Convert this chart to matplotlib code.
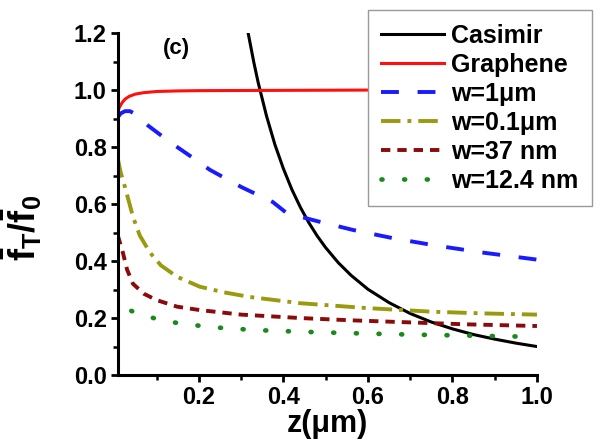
import matplotlib
matplotlib.use("Agg")
import matplotlib.pyplot as plt
from matplotlib.ticker import MultipleLocator, FixedLocator

plt.rcParams['font.family'] = ['Liberation Sans', 'DejaVu Sans']
plt.rcParams['font.weight'] = 'bold'
plt.rcParams['mathtext.fontset'] = 'custom'
plt.rcParams['mathtext.rm'] = 'Liberation Sans:bold'
plt.rcParams['mathtext.bf'] = 'Liberation Sans:bold'
plt.rcParams['mathtext.it'] = 'Liberation Sans:bold'

# ---- data ----
casimir_z = [0.316, 0.33, 0.34, 0.36, 0.38, 0.40, 0.42, 0.44, 0.46, 0.48, 0.50, 0.53, 0.56,
             0.60, 0.65, 0.70, 0.75, 0.80, 0.85, 0.90, 0.95, 1.00]
casimir_y = [1.204, 1.097, 1.028, 0.909, 0.808, 0.724, 0.651, 0.589, 0.535, 0.488, 0.447, 0.394, 0.350,
             0.301, 0.254, 0.216, 0.186, 0.162, 0.142, 0.126, 0.112, 0.100]

graphene_z = [0.008, 0.012, 0.018, 0.025, 0.035, 0.05, 0.07, 0.1, 0.15, 0.2, 0.4, 0.6, 0.8, 1.0]
graphene_y = [0.925, 0.94, 0.955, 0.968, 0.978, 0.986, 0.991, 0.995, 0.997, 0.998, 0.999, 1.0, 1.0, 1.0]

w1_z = [0.008, 0.015, 0.025, 0.037, 0.05, 0.08, 0.131, 0.18, 0.226, 0.30, 0.375, 0.408,
        0.48, 0.565, 0.66, 0.754, 0.87, 1.0]
w1_y = [0.905, 0.918, 0.926, 0.926, 0.915, 0.875, 0.818, 0.768, 0.72, 0.66, 0.607, 0.568,
        0.54, 0.509, 0.48, 0.456, 0.43, 0.405]

w01_z = [0.008, 0.015, 0.025, 0.044, 0.06, 0.084, 0.11, 0.148, 0.202, 0.26, 0.32, 0.44,
         0.597, 0.754, 0.88, 1.0]
w01_y = [0.76, 0.71, 0.66, 0.555, 0.49, 0.43, 0.385, 0.345, 0.31, 0.29, 0.274, 0.252,
         0.235, 0.222, 0.216, 0.212]

w37_z = [0.008, 0.014, 0.02, 0.03, 0.044, 0.07, 0.1, 0.148, 0.202, 0.30, 0.44, 0.56, 0.675, 0.83, 1.0]
w37_y = [0.49, 0.46, 0.43, 0.37, 0.32, 0.285, 0.263, 0.24, 0.228, 0.212, 0.20, 0.192, 0.186, 0.178, 0.172]

w12_z = [0.04, 0.053, 0.08, 0.11, 0.163, 0.24, 0.33, 0.44, 0.557, 0.70, 0.85, 1.0]
w12_y = [0.225, 0.218, 0.205, 0.193, 0.179, 0.167, 0.158, 0.152, 0.147, 0.142, 0.138, 0.134]

labels = ['Casimir', 'Graphene', 'w=1\u03bcm', 'w=0.1\u03bcm', 'w=37 nm', 'w=12.4 nm']
xticks = [0.2, 0.4, 0.6, 0.8, 1.0]
yticks = [0.0, 0.2, 0.4, 0.6, 0.8, 1.0, 1.2]

fig = plt.figure(figsize=(6.04, 4.47), dpi=100)
ax = fig.add_axes([0.195, 0.161, 0.694, 0.765])

lw = 2.2
ax.plot(casimir_z, casimir_y, color='black', lw=lw, label=labels[0])
ax.plot(graphene_z, graphene_y, color='#ff1010', lw=lw, label=labels[1])
ax.plot(w1_z, w1_y, color='#1a1aff', lw=lw + 0.6, dashes=(4.6, 4.8), label=labels[2])
ax.plot(w01_z, w01_y, color='#9a9a10', lw=lw + 0.6, dashes=(5.0, 1.8, 1.0, 1.8), label=labels[3])
ax.plot(w37_z, w37_y, color='#8b0a0a', lw=lw + 0.6, dashes=(2.4, 1.8), label=labels[4])
ax.plot(w12_z, w12_y, color='#1a8a1a', lw=lw + 1.2, dashes=(0.2, 4.6),
        dash_capstyle='round', label=labels[5])

ax.set_xlim(0.008, 1.0)
ax.set_ylim(0.0, 1.2)
ax.xaxis.set_major_locator(FixedLocator(xticks))
ax.xaxis.set_minor_locator(FixedLocator([0.1, 0.3, 0.5, 0.7, 0.9]))
ax.yaxis.set_major_locator(FixedLocator(yticks))
ax.yaxis.set_minor_locator(MultipleLocator(0.1))
ax.set_xticklabels([f'{t:.1f}' for t in xticks])
ax.set_yticklabels([f'{t:.1f}' for t in yticks])

for s in ['top', 'right']:
    ax.spines[s].set_visible(False)
for s in ['left', 'bottom']:
    ax.spines[s].set_linewidth(2.2)
ax.tick_params(which='major', direction='out', length=5, width=2.0, labelsize=17, pad=3)
ax.tick_params(which='minor', direction='out', length=3.5, width=1.8)
for t in ax.get_xticklabels() + ax.get_yticklabels():
    t.set_fontweight('bold')

ax.set_xlabel('z(\u03bcm)', fontsize=22, fontweight='bold', labelpad=0)
ax.set_ylabel(r'$\mathbf{\bar{f}_T/\bar{f}_0}$', fontsize=26)
ax.yaxis.set_label_coords(-0.175, 0.43)

ax.text(0.146, 1.147, '(c)', fontsize=16, fontweight='bold', ha='center', va='center')

leg = fig.legend(loc='upper right', bbox_to_anchor=(0.980, 0.978),
                 prop={'weight': 'bold', 'size': 18}, handlelength=2.5, handletextpad=0.28,
                 labelspacing=0.2, borderpad=0.55, borderaxespad=0, fancybox=False, framealpha=1,
                 edgecolor='#999999')
leg.get_frame().set_linewidth(1.0)

fig.savefig('out.png', dpi=100)
